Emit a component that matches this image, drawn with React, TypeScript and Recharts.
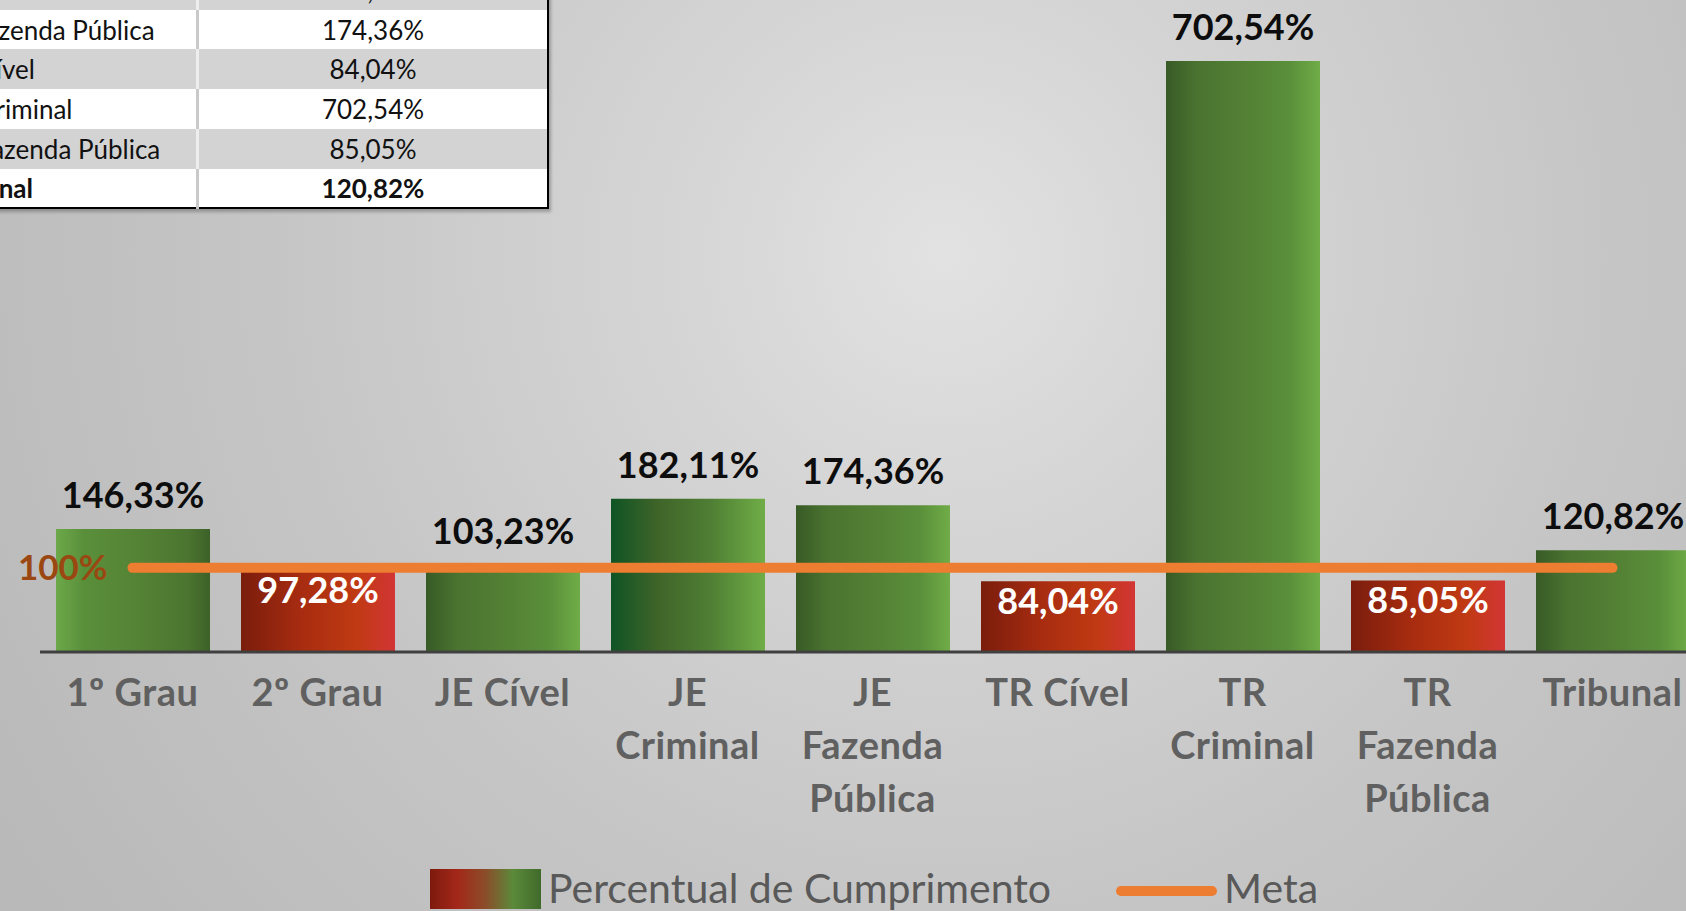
import React from "react";
import { ComposedChart, Bar, Line, XAxis, YAxis, Cell, LabelList, Legend } from "recharts";

const categories = [
  "1º Grau",
  "2º Grau",
  "JE Cível",
  "JE Criminal",
  "JE Fazenda Pública",
  "TR Cível",
  "TR Criminal",
  "TR Fazenda Pública",
  "Tribunal",
];

// tick labels as they wrap under the bars
const tickLines = [
  ["1º Grau"],
  ["2º Grau"],
  ["JE Cível"],
  ["JE", "Criminal"],
  ["JE", "Fazenda", "Pública"],
  ["TR Cível"],
  ["TR", "Criminal"],
  ["TR", "Fazenda", "Pública"],
  ["Tribunal"],
];

const cumprimento = [146.33, 97.28, 103.23, 182.11, 174.36, 84.04, 702.54, 85.05, 120.82];
const meta = [100, 100, 100, 100, 100, 100, 100, 100, 100];

const data = categories.map((name, i) => ({
  name,
  value: cumprimento[i],
  meta: meta[i],
}));

const green1 = [["0%", "#6ca94a"], ["18%", "#5a8f3a"], ["55%", "#548235"], ["85%", "#4b7530"], ["100%", "#3d6128"]];
const green2 = [["0%", "#385a26"], ["20%", "#4a7330"], ["55%", "#548235"], ["80%", "#5a8f3a"], ["100%", "#6fac47"]];
const green3 = [["0%", "#0f5424"], ["30%", "#3f6429"], ["65%", "#4f7f34"], ["100%", "#70ad47"]];
const red = [["0%", "#7a1d0c"], ["40%", "#a82c10"], ["75%", "#c03a13"], ["100%", "#d23535"]];
const barGradients = [green1, red, green2, green3, green2, red, green2, red, green2];

const fmt = (v: number) => (Number.isInteger(v) ? `${v}%` : `${v.toFixed(2).replace(".", ",")}%`);

const FONT = "Lato, 'Open Sans', sans-serif";

const CategoryTick = ({ x, y, payload }: any) => {
  const lines = tickLines[categories.indexOf(payload.value)] || [payload.value];
  return (
    <text x={x} y={y} textAnchor="middle" fill="#606060" fontFamily={FONT} fontWeight={700} fontSize={38} letterSpacing={0.5}>
      {lines.map((l, i) => (
        <tspan key={i} x={x} dy={i === 0 ? 54 : 53}>
          {l}
        </tspan>
      ))}
    </text>
  );
};

const BarValueLabel = (props: any) => {
  const { x, y, width, value } = props;
  const v = Number(value);
  const inside = v < 100;
  return (
    <text
      x={x + width / 2}
      y={inside ? y + 33 : y - 21}
      textAnchor="middle"
      fill={inside ? "#ffffff" : "#0d0d0d"}
      fontFamily={FONT}
      fontWeight={700}
      fontSize={36}
    >
      {fmt(v)}
    </text>
  );
};

const MetaLabel = (props: any) => {
  const { x, y, index, value } = props;
  if (index !== 0) return null;
  return (
    <text x={x - 25} y={y + 12} textAnchor="end" fill="#9a4712" fontFamily={FONT} fontWeight={700} fontSize={35}>
      {fmt(Number(value))}
    </text>
  );
};

const renderLegend = (props: any) => {
  const items = props.payload || [];
  const barItem = items.find((p: any) => p.dataKey === "value");
  const lineItem = items.find((p: any) => p.dataKey === "meta");
  const textStyle = {
    position: "absolute" as const,
    top: 5,
    fontFamily: FONT,
    fontSize: 41,
    lineHeight: "41px",
    color: "#595959",
    whiteSpace: "nowrap" as const,
  };
  return (
    <div style={{ position: "relative", width: 1705, height: 49 }}>
      <div style={{
        position: "absolute",
        left: 430,
        top: 7,
        width: 111,
        height: 40,
        background: "linear-gradient(to right, #7d1a0d 0%, #a3281a 25%, #8b4d2a 50%, #5b8a3a 75%, #3f6a2a 100%)",
      }} />
      <div style={{ ...textStyle, left: 548 }}>{barItem ? barItem.value : ""}</div>
      <div style={{
        position: "absolute",
        left: 1116,
        top: 24,
        width: 101,
        height: 10,
        borderRadius: 5,
        background: "#ed7d31",
      }} />
      <div style={{ ...textStyle, left: 1224 }}>{lineItem ? lineItem.value : ""}</div>
    </div>
  );
};

export default function App() {
  return (
    <div style={{
      position: "absolute",
      top: 0,
      left: 0,
      width: 1686,
      height: 911,
      overflow: "hidden",
      background: "radial-gradient(circle at 56% 28%, #e2e2e2 0px, #d6d6d6 250px, #c6c6c6 650px, #b9b9b9 1100px)",
    }}>

      {/* summary table, partly cut off at the top-left */}
      <table style={{
        position: "absolute",
        left: -64,
        top: -149,
        width: 613,
        borderCollapse: "collapse",
        fontFamily: FONT,
        fontSize: 26,
        color: "#111",
        borderRight: "2px solid #000",
        borderBottom: "2px solid #000",
        boxShadow: "2px 3px 3px rgba(0,0,0,0.25)",
      }}>
        <tbody>
          {categories.map((c, i) => (
            <tr key={c} style={{ height: 39.7, background: i % 2 === 1 ? "#d3d3d3" : "#ffffff", fontWeight: c === "Tribunal" ? 700 : 400 }}>
              <td style={{
                width: 256,
                padding: "0 0 0 4px",
                whiteSpace: "nowrap",
                borderRight: i % 2 === 1 ? "3px solid #eeeeee" : "3px solid #c9c9c9",
              }}>
                {c}
              </td>
              <td style={{ textAlign: "center", padding: 0 }}>{fmt(cumprimento[i])}</td>
            </tr>
          ))}
        </tbody>
      </table>

      <div style={{ position: "absolute", left: 0, top: 0 }}>
        <ComposedChart width={1705} height={911} data={data} margin={{ top: 0, right: 0, bottom: 0, left: 40 }}>
          <defs>
            {barGradients.map((stops, i) => (
              <linearGradient key={i} id={`barGrad${i}`} x1="0" y1="0" x2="1" y2="0">
                {stops.map(([off, col]) => (
                  <stop key={off} offset={off} stopColor={col} />
                ))}
              </linearGradient>
            ))}
          </defs>
          <XAxis
            dataKey="name"
            height={259}
            interval={0}
            tickLine={false}
            tickSize={0}
            tickMargin={0}
            axisLine={{ stroke: "#404040", strokeWidth: 3 }}
            tick={<CategoryTick />}
          />
          <YAxis hide domain={[0, 775]} />
          <Legend
            layout="horizontal"
            verticalAlign="middle"
            align="center"
            wrapperStyle={{ top: 862, left: 0, width: 1705, height: 49 }}
            content={renderLegend}
          />
          <Bar dataKey="value" name="Percentual de Cumprimento" barSize={154} isAnimationActive={false}>
            {data.map((d, i) => (
              <Cell key={d.name} fill={`url(#barGrad${i})`} />
            ))}
            <LabelList dataKey="value" content={<BarValueLabel />} />
          </Bar>
          <Line
            dataKey="meta"
            name="Meta"
            type="linear"
            stroke="#ed7d31"
            strokeWidth={10}
            strokeLinecap="round"
            dot={false}
            activeDot={false}
            isAnimationActive={false}
          >
            <LabelList dataKey="meta" content={<MetaLabel />} />
          </Line>
        </ComposedChart>
      </div>
    </div>
  );
}
